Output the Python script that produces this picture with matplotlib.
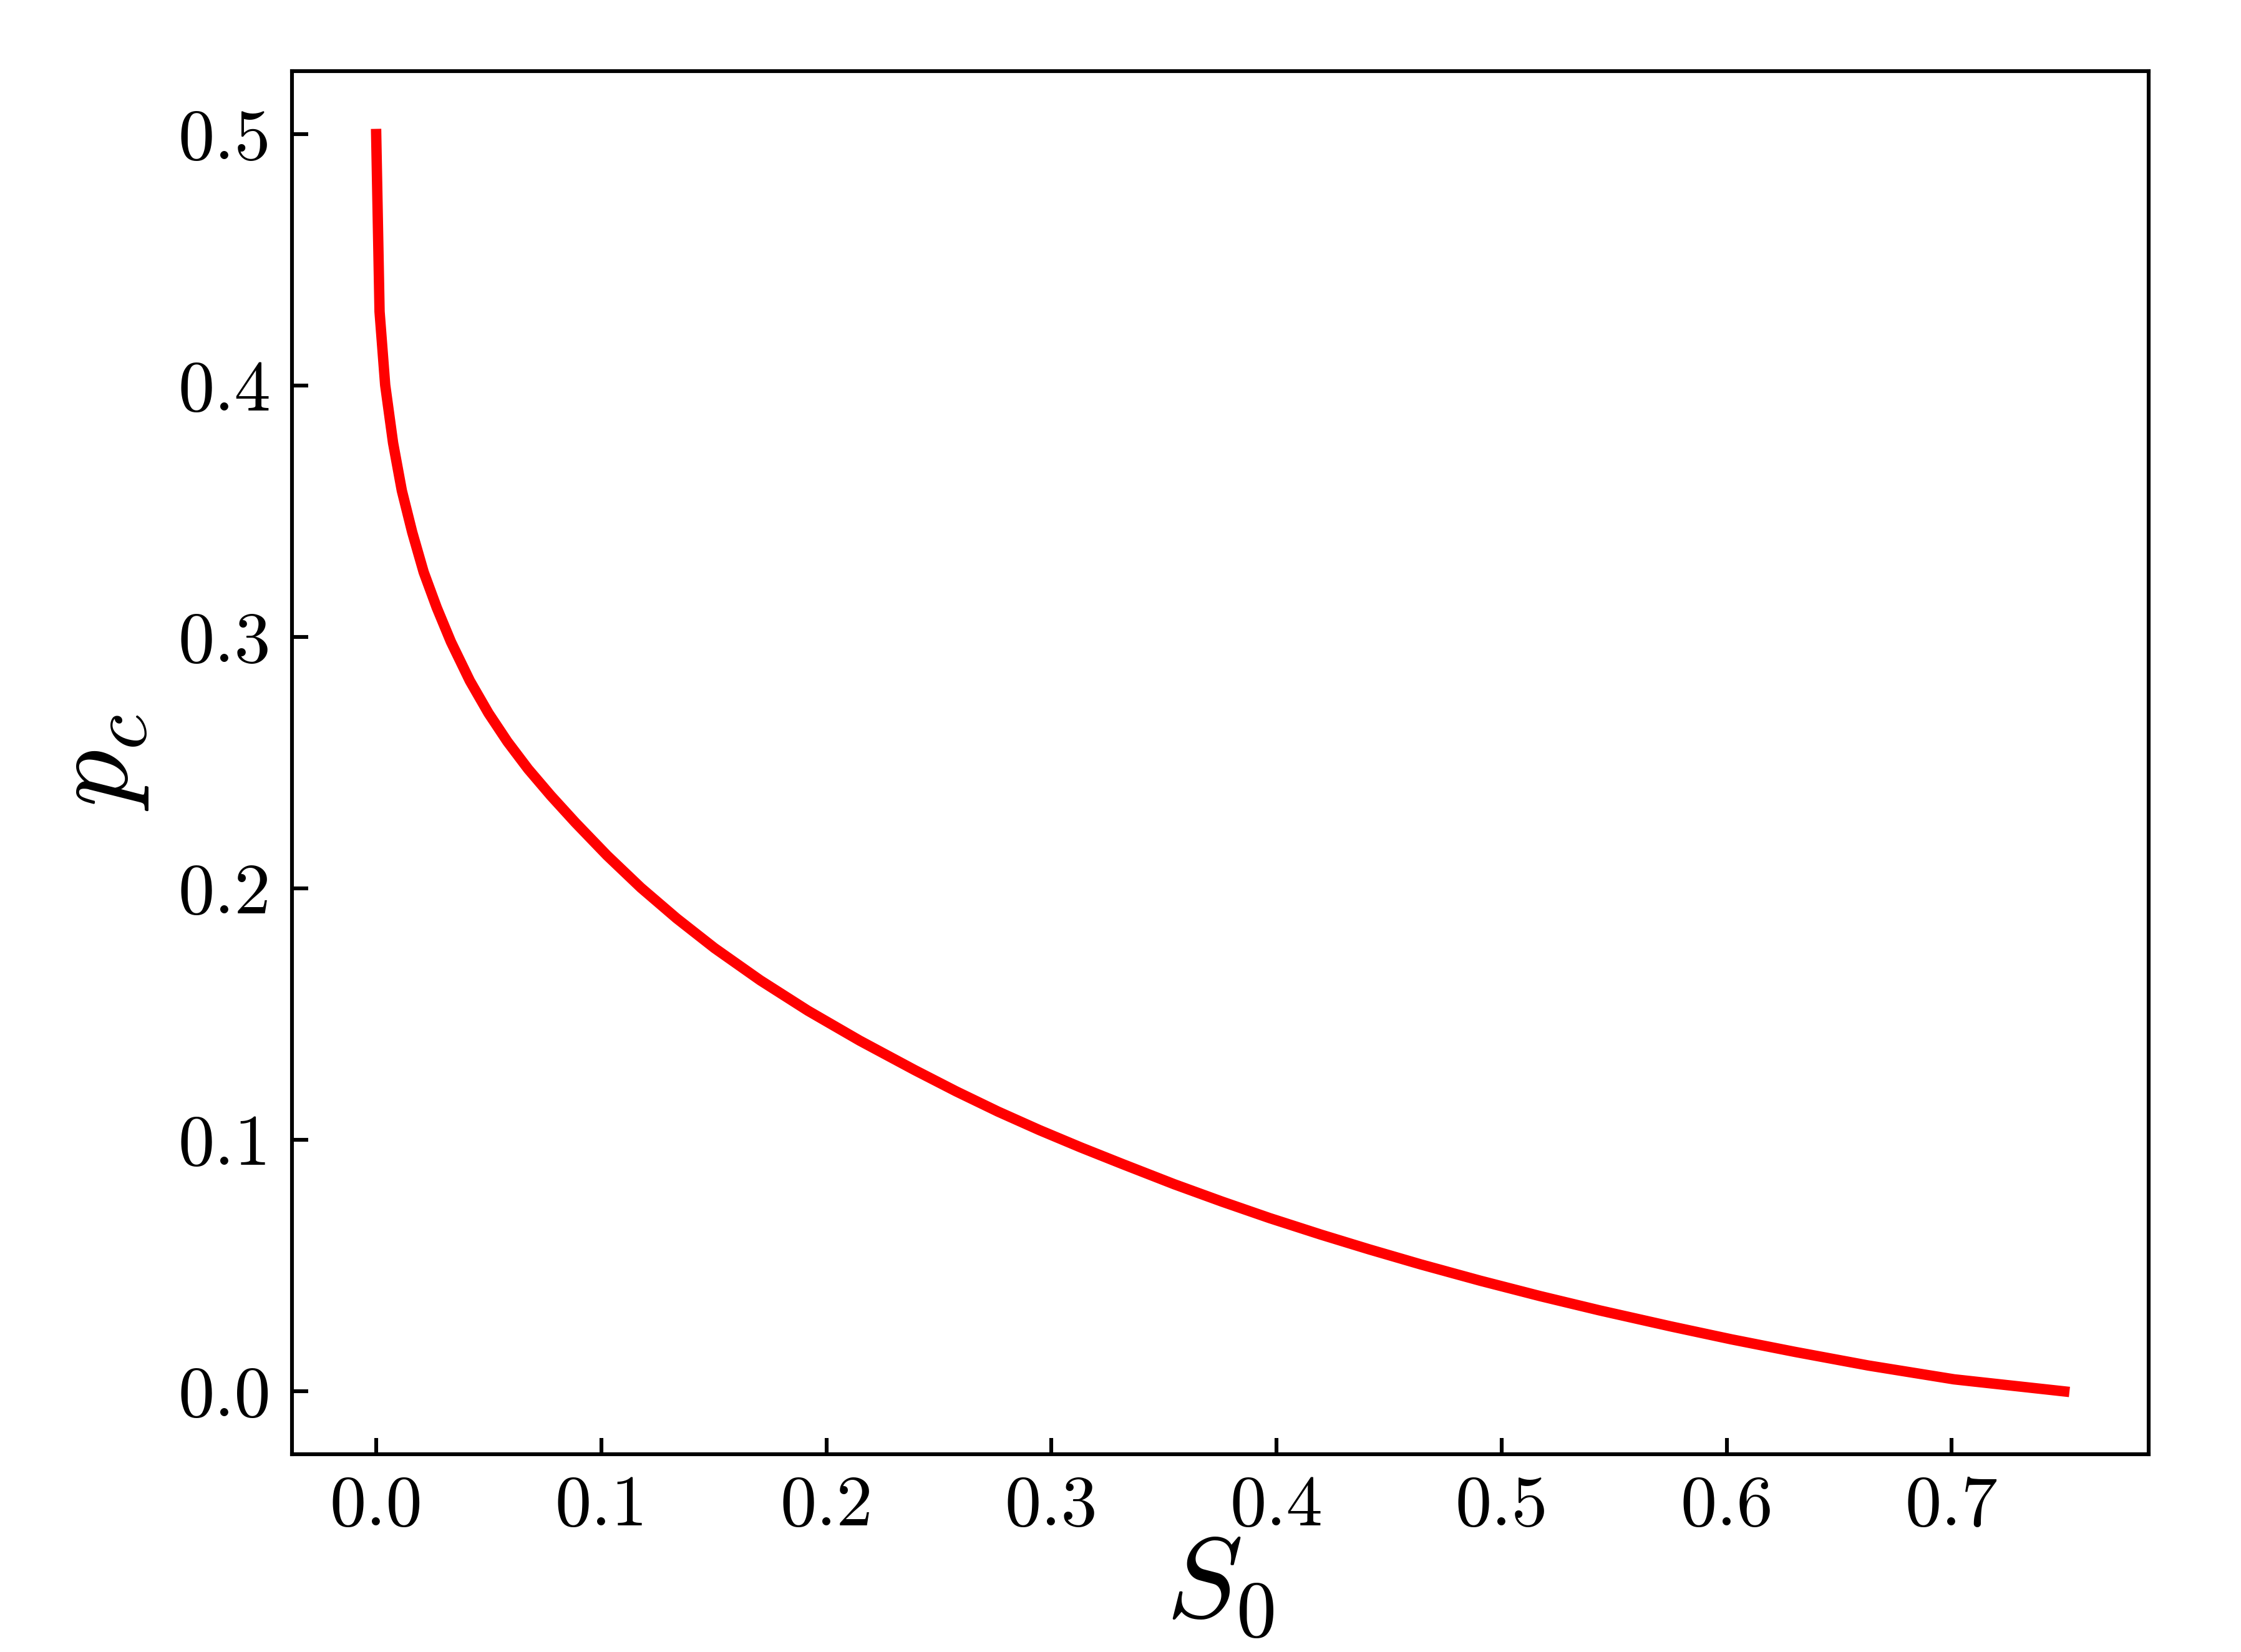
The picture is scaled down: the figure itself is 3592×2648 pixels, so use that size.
import matplotlib
matplotlib.use("Agg")
import matplotlib.pyplot as plt

S0 = [0.0, 0.0015, 0.004, 0.0075, 0.0114, 0.016, 0.0211, 0.0269, 0.0332,
      0.0416, 0.0499, 0.0583, 0.0675, 0.0776, 0.0885, 0.1026, 0.1176, 0.1335, 0.1503,
      0.1706, 0.1918, 0.2148, 0.2392, 0.2577, 0.2762, 0.2947, 0.3131, 0.3316, 0.3545,
      0.3757, 0.3970, 0.4199, 0.4411, 0.4641, 0.4906, 0.5171, 0.5436, 0.5754, 0.6021,
      0.6304, 0.6629, 0.7010, 0.75]
pc = [0.5, 0.4294, 0.4002, 0.3772, 0.3582, 0.3417, 0.3258, 0.3117, 0.2981,
      0.2826, 0.2697, 0.2584, 0.2475, 0.2369, 0.2262, 0.2131, 0.2003, 0.1881, 0.1763,
      0.1635, 0.1514, 0.1395, 0.1278, 0.1193, 0.1113, 0.1039, 0.0970, 0.0904, 0.0824,
      0.0755, 0.0689, 0.0623, 0.0565, 0.0505, 0.0440, 0.0379, 0.0322, 0.0258, 0.0207,
      0.0157, 0.0103, 0.0048, 0.0]

xticks = [0.0, 0.1, 0.2, 0.3, 0.4, 0.5, 0.6, 0.7]
yticks = [0.0, 0.1, 0.2, 0.3, 0.4, 0.5]

plt.rcParams['font.family'] = 'serif'
plt.rcParams['font.serif'] = ['cmr10', 'DejaVu Serif']
plt.rcParams['mathtext.fontset'] = 'cm'
plt.rcParams['axes.formatter.use_mathtext'] = True

fig = plt.figure(figsize=(3592/400, 2648/400), dpi=400)
ax = fig.add_axes([0.1302, 0.1197, 0.9588-0.1302, 0.9569-0.1197])
ax.plot(S0, pc, color='red', lw=3, solid_joinstyle='miter')
ax.set_xticks(xticks)
ax.set_yticks(yticks)
ax.set_xticklabels([f"{v:.1f}" for v in xticks])
ax.set_yticklabels([f"{v:.1f}" for v in yticks])
ax.tick_params(direction='in', length=4.7, width=1.1, labelsize=21, pad=6)
for s in ax.spines.values():
    s.set_linewidth(1.1)
ax.set_xlabel('$S_0$', fontsize=33, labelpad=-1)
ax.set_ylabel('$p_c$', fontsize=33, labelpad=8)
fig.savefig('out.png', dpi=400)
